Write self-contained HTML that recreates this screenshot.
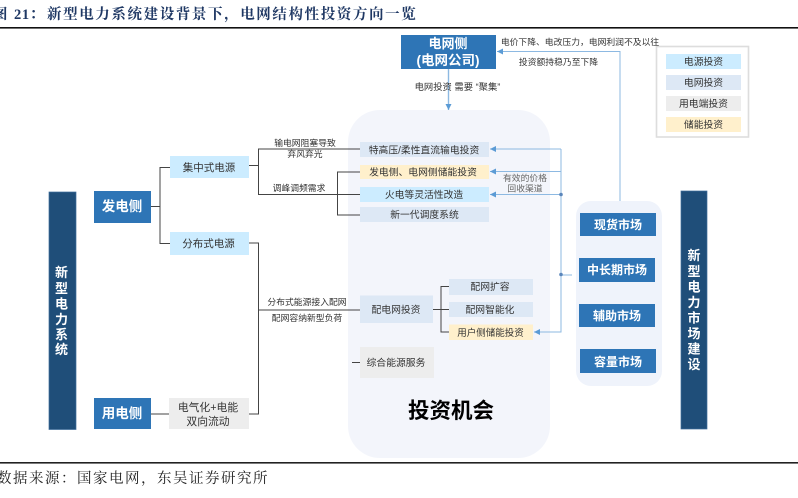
<!DOCTYPE html>
<html><head><meta charset="utf-8"><style>
html,body{margin:0;padding:0;background:#fff;width:798px;height:498px;overflow:hidden}
svg{display:block}
text{font-family:"Liberation Sans","Noto Sans CJK SC",sans-serif;text-anchor:middle;fill:#333;font-size:9.8px}
.w{fill:#fff;font-weight:700}
.s{font-size:8.8px}
.t{text-anchor:start;font-family:'Liberation Serif','Noto Serif CJK SC',serif;font-size:14.5px;font-weight:700;fill:#1f3864}
</style></head><body>
<svg width="798" height="498" viewBox="0 0 798 498" xmlns="http://www.w3.org/2000/svg">
<defs><marker id="a" markerWidth="8" markerHeight="8" refX="6" refY="3" orient="auto" markerUnits="userSpaceOnUse"><path d="M0,0L6,3L0,6z" fill="#5b9bd5"/></marker></defs>
<text class="t" x="-7" y="19">图</text>
<text class="t" x="14" y="19" style="letter-spacing:.6px">21：</text>
<text class="t" x="47" y="19" style="letter-spacing:1.6px">新型电力系统建设背景下，电网结构性投资方向一览</text>
<rect x="0" y="27" width="798" height="1.6" fill="#111"/>
<rect x="0" y="462" width="798" height="1.6" fill="#222"/>
<text x="-3" y="483" style="text-anchor:start;font-family:'Liberation Serif','Noto Serif CJK SC',serif;font-size:14.5px;fill:#222;letter-spacing:1.5px">数据来源：国家电网，东吴证券研究所</text>

<rect x="348" y="110" width="202" height="348" rx="32" fill="#f3f5fb"/>
<rect x="576" y="201" width="86" height="185" rx="15" fill="#eff3fb"/>

<g stroke="#444" stroke-width="1" fill="none">
<path d="M151 206.5H160M170 167.5H160V243.5H170"/>
<path d="M249 165.5H258.5M360 149H258.5V194.5H360M360 172H337.5V215H360"/>
<path d="M249 243H258.5V414H249M258.5 310H360M151 414H169"/>
<path d="M433 309.5H449M449 286.5H441V332H449M352 362.5H360"/>
</g>
<g stroke="#8db9e2" stroke-width="1" fill="none">
<path d="M620 201V51.5H497" marker-end="url(#a)"/>
<path d="M448.5 69V110" marker-end="url(#a)" stroke-width="1.4"/>
<path d="M561 149H490" marker-end="url(#a)"/>
<path d="M561 171.5H490" marker-end="url(#a)"/>
<path d="M561 194.5H490" marker-end="url(#a)"/>
<path d="M561 149V332H534" marker-end="url(#a)"/>
<path d="M561 275H572"/>
</g>
<circle cx="561" cy="194.5" r="1.8" fill="#5b86bb"/>
<circle cx="561" cy="274.5" r="1.8" fill="#5b86bb"/>

<g fill="#1f4e79" stroke="#3f6e9c" stroke-width=".7">
<rect x="49" y="192" width="27" height="237.5"/>
<rect x="681" y="191" width="26" height="238"/>
</g>
<g fill="#2e75b6">
<rect x="94" y="191" width="57" height="32"/>
<rect x="94" y="398" width="57" height="31"/>
<rect x="401" y="35" width="95" height="34"/>
<rect x="580" y="213" width="76" height="23"/>
<rect x="579" y="258" width="76" height="24"/>
<rect x="579" y="304" width="76" height="23"/>
<rect x="580" y="349" width="76" height="24"/>
</g>
<g fill="#ccecff">
<rect x="170" y="156" width="79" height="22"/>
<rect x="170" y="232" width="79" height="23"/>
<rect x="360" y="187" width="129" height="15"/>
<rect x="666" y="54" width="75" height="15"/>
</g>
<g fill="#dde8f5">
<rect x="360" y="142" width="129" height="15"/>
<rect x="360" y="207" width="129" height="15"/>
<rect x="360" y="295.5" width="73" height="27.5"/>
<rect x="449" y="279" width="84" height="16"/>
<rect x="449" y="302" width="84" height="15"/>
<rect x="666" y="75" width="75" height="15"/>
</g>
<g fill="#ededed">
<rect x="169" y="398" width="80" height="31"/>
<rect x="360" y="347" width="74" height="31"/>
<rect x="666" y="96" width="75" height="15"/>
</g>
<g fill="#fff0cc">
<rect x="360" y="165" width="129" height="14"/>
<rect x="449" y="324.5" width="84" height="15.5"/>
<rect x="666" y="117" width="75" height="15"/>
</g>
<rect x="656.5" y="46.5" width="92" height="90.5" fill="none" stroke="#ddd" stroke-width="1.6"/>

<text class="w" x="122" y="211" style="font-size:13.5px">发电侧</text>
<text class="w" x="122" y="418" style="font-size:13.5px">用电侧</text>
<text class="w" x="448" y="48" style="font-size:13px">电网侧</text>
<text class="w" x="448" y="65" style="font-size:13.5px">(电网公司)</text>
<text class="w" x="618" y="229" style="font-size:12px">现货市场</text>
<text class="w" x="617" y="274" style="font-size:12px">中长期市场</text>
<text class="w" x="617" y="320" style="font-size:12px">辅助市场</text>
<text class="w" x="618" y="366" style="font-size:12px">容量市场</text>

<text class="w" x="61.5" y="277" style="font-size:13px">新</text>
<text class="w" x="61.5" y="293" style="font-size:13px">型</text>
<text class="w" x="61.5" y="308.5" style="font-size:13px">电</text>
<text class="w" x="61.5" y="324" style="font-size:13px">力</text>
<text class="w" x="61.5" y="339" style="font-size:13px">系</text>
<text class="w" x="61.5" y="354" style="font-size:13px">统</text>
<text class="w" x="694" y="260" style="font-size:13px">新</text>
<text class="w" x="694" y="276" style="font-size:13px">型</text>
<text class="w" x="694" y="291.5" style="font-size:13px">电</text>
<text class="w" x="694" y="307" style="font-size:13px">力</text>
<text class="w" x="694" y="322.5" style="font-size:13px">市</text>
<text class="w" x="694" y="338" style="font-size:13px">场</text>
<text class="w" x="694" y="353.5" style="font-size:13px">建</text>
<text class="w" x="694" y="369" style="font-size:13px">设</text>

<text x="209" y="171" style="font-size:10.5px">集中式电源</text>
<text x="208.5" y="247" style="font-size:10.5px">分布式电源</text>
<text x="208" y="411" style="font-size:10.8px">电气化+电能</text>
<text x="208" y="425" style="font-size:10.8px">双向流动</text>
<text x="305" y="146" class="s">输电网阻塞导致</text>
<text x="305" y="157" class="s">弃风弃光</text>
<text x="299" y="191" class="s">调峰调频需求</text>
<text x="307" y="305" class="s">分布式能源接入配网</text>
<text x="307" y="321" class="s">配网容纳新型负荷</text>

<text x="424" y="153.5">特高压/柔性直流输电投资</text>
<text x="423" y="175.5">发电侧、电网侧储能投资</text>
<text x="424" y="198">火电等灵活性改造</text>
<text x="424.5" y="218">新一代调度系统</text>
<text x="396" y="313">配电网投资</text>
<text x="490" y="290">配网扩容</text>
<text x="490" y="313">配网智能化</text>
<text x="490.5" y="336" style="font-size:9.5px">用户侧储能投资</text>
<text x="396" y="366">综合能源服务</text>
<text x="451" y="418" style="font-size:21.5px;font-weight:700;fill:#000">投资机会</text>

<text x="580" y="45" class="s">电价下降、电改压力，电网利润不及以往</text>
<text x="558.5" y="65" class="s">投资额持稳乃至下降</text>
<text x="457.5" y="90" style="font-size:9.3px">电网投资 需要 “聚集”</text>
<text x="525" y="181" class="s" style="fill:#666">有效的价格</text>
<text x="525" y="191.5" class="s" style="fill:#666">回收渠道</text>

<text x="703.5" y="65">电源投资</text>
<text x="703.5" y="86">电网投资</text>
<text x="703.5" y="107">用电端投资</text>
<text x="703.5" y="128">储能投资</text>
</svg>
</body></html>
